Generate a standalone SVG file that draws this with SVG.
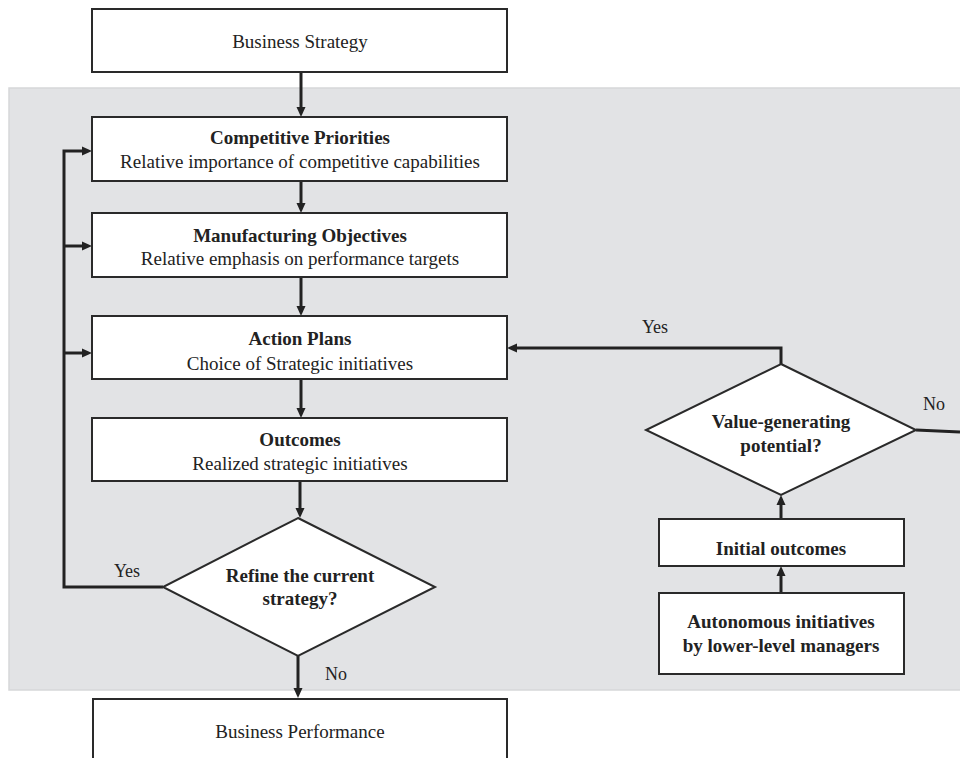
<svg xmlns="http://www.w3.org/2000/svg" width="960" height="758" viewBox="0 0 960 758">
<style>
.box{fill:#fff;stroke:#2a2a2a;stroke-width:2}
.t{font-family:'Liberation Serif','Times New Roman','DejaVu Serif',serif;font-size:19px;fill:#222;text-anchor:middle}
.b{font-weight:bold}
.lbl{font-family:'Liberation Serif','Times New Roman','DejaVu Serif',serif;font-size:18px;fill:#222;text-anchor:middle}
.c{fill:none;stroke:#222;stroke-width:3}
</style>
<defs>
<marker id="ah" markerUnits="userSpaceOnUse" markerWidth="10" markerHeight="10" refX="2" refY="5" orient="auto">
<path d="M0,0.5 L10,5 L0,9.5 z" fill="#222"/>
</marker>
</defs>
<rect x="0" y="0" width="960" height="758" fill="#fff"/>
<rect id="panel" x="9" y="88" width="952" height="602" fill="#e2e3e5" stroke="#d6d7d9" stroke-width="1.5"/>

<g id="connectors">
<path class="c" d="M301,72 V109" marker-end="url(#ah)"/>
<path class="c" d="M301,181 V205" marker-end="url(#ah)"/>
<path class="c" d="M301,277 V308" marker-end="url(#ah)"/>
<path class="c" d="M301,379 V410" marker-end="url(#ah)"/>
<path class="c" d="M300,481 V510" marker-end="url(#ah)"/>
<path class="c" d="M163,587 H64 V151 H84" marker-end="url(#ah)"/>
<path class="c" d="M64,246 H84" marker-end="url(#ah)"/>
<path class="c" d="M64,353 H84" marker-end="url(#ah)"/>
<path class="c" d="M298,656 V690" marker-end="url(#ah)"/>
<path class="c" d="M781,593 V574" marker-end="url(#ah)"/>
<path class="c" d="M781,519 V503" marker-end="url(#ah)"/>
<path class="c" d="M781,364 V348 H515" marker-end="url(#ah)"/>
<path class="c" d="M916,430 L960,432"/>
<text class="lbl" x="127" y="577">Yes</text>
<text class="lbl" x="336" y="680">No</text>
<text class="lbl" x="655" y="333">Yes</text>
<text class="lbl" x="934" y="410">No</text>
</g>

<g id="business-strategy">
<rect class="box" x="92" y="9" width="415" height="63"/>
<text class="t" x="300" y="48">Business Strategy</text>
</g>
<g id="competitive-priorities">
<rect class="box" x="92" y="117" width="415" height="64"/>
<text class="t b" x="300" y="144">Competitive Priorities</text>
<text class="t" x="300" y="168">Relative importance of competitive capabilities</text>
</g>
<g id="manufacturing-objectives">
<rect class="box" x="92" y="213" width="415" height="64"/>
<text class="t b" x="300" y="242">Manufacturing Objectives</text>
<text class="t" x="300" y="265">Relative emphasis on performance targets</text>
</g>
<g id="action-plans">
<rect class="box" x="92" y="316" width="415" height="63"/>
<text class="t b" x="300" y="345">Action Plans</text>
<text class="t" x="300" y="370">Choice of Strategic initiatives</text>
</g>
<g id="outcomes">
<rect class="box" x="92" y="418" width="415" height="63"/>
<text class="t b" x="300" y="446">Outcomes</text>
<text class="t" x="300" y="470">Realized strategic initiatives</text>
</g>
<g id="refine-decision">
<polygon class="box" points="298,518 435,587 298,656 163,587"/>
<text class="t b" x="300" y="582">Refine the current</text>
<text class="t b" x="300" y="605">strategy?</text>
</g>
<g id="business-performance">
<rect class="box" x="93" y="699" width="414" height="70"/>
<text class="t" x="300" y="738">Business Performance</text>
</g>
<g id="value-decision">
<polygon class="box" points="781,364 916,430 781,495 646,430"/>
<text class="t b" x="781" y="428">Value-generating</text>
<text class="t b" x="781" y="452">potential?</text>
</g>
<g id="initial-outcomes">
<rect class="box" x="659" y="519" width="245" height="47"/>
<text class="t b" x="781" y="555">Initial outcomes</text>
</g>
<g id="autonomous-initiatives">
<rect class="box" x="659" y="593" width="245" height="81"/>
<text class="t b" x="781" y="628">Autonomous initiatives</text>
<text class="t b" x="781" y="652">by lower-level managers</text>
</g>
</svg>
